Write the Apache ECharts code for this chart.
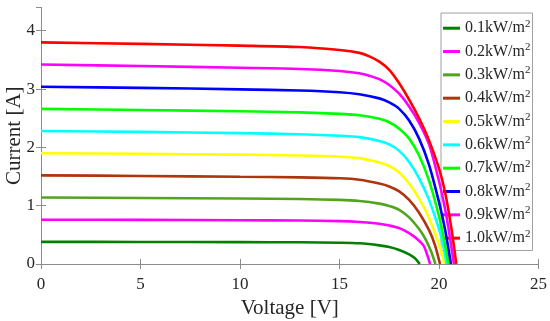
<!DOCTYPE html>
<html>
<head>
<meta charset="utf-8">
<script src="https://cdn.jsdelivr.net/npm/echarts@6/dist/echarts.min.js"></script>
<style>html,body{margin:0;padding:0;background:#fff;}#c{width:550px;height:321px;}</style>
</head>
<body>
<div id="c"></div>
<script>
// Irradiance labels (kW/m^2)
var irradiance = ['0.1','0.2','0.3','0.4','0.5','0.6','0.7','0.8','0.9','1.0'];
var colors = ['#008000','#ff00ff','#52a41f','#b0340c','#ffff00','#00ffff','#00ff00','#0000ff','#ff00ff','#ff0000'];
var xTicks = [0,5,10,15,20,25];
var yTicks = [0,1,2,3,4];

// Voltage [V] / Current [A] readings per curve
var v01 = [0,5,10,13,15,16,17,17.5,18,18.5,18.8,19.03];
var i01 = [0.38,0.378,0.375,0.372,0.365,0.355,0.32,0.29,0.24,0.165,0.097,0];
var v02 = [0,5,10,13,15,16,17,17.5,18,18.5,19,19.25,19.55];
var i02 = [0.76,0.756,0.75,0.745,0.735,0.72,0.69,0.66,0.615,0.53,0.40,0.30,0];
var v03 = [0,5,10,13,15,16,17,17.5,18,18.5,19,19.3,19.6,19.82];
var i03 = [1.14,1.133,1.123,1.115,1.10,1.08,1.035,0.995,0.93,0.80,0.60,0.44,0.22,0];
var v04 = [0,5,10,13,15,16,17,17.5,18,18.5,19,19.5,19.8,20.05];
var i04 = [1.52,1.51,1.495,1.485,1.47,1.445,1.38,1.33,1.245,1.10,0.88,0.58,0.32,0];
var v05 = [0,5,10,13,15,16,17,17.5,18,18.5,19,19.5,20,20.27];
var i05 = [1.90,1.89,1.875,1.86,1.84,1.815,1.74,1.68,1.57,1.38,1.12,0.79,0.34,0];
var v06 = [0,5,10,13,15,16,17,17.5,18,18.5,19,19.5,20,20.2,20.38];
var i06 = [2.28,2.265,2.245,2.225,2.20,2.175,2.11,2.05,1.94,1.75,1.47,1.10,0.60,0.34,0];
var v07 = [0,5,10,13,15,16,17,17.5,18,18.5,19,19.5,20,20.25,20.48];
var i07 = [2.66,2.64,2.62,2.60,2.575,2.55,2.49,2.43,2.32,2.15,1.86,1.43,0.82,0.42,0];
var v08 = [0,5,10,13,15,16,17,17.5,18,18.5,19,19.5,20,20.3,20.6];
var i08 = [3.04,3.02,2.995,2.975,2.945,2.91,2.84,2.77,2.66,2.46,2.15,1.70,1.06,0.60,0];
var v09 = [0,5,10,13,15,16,16.5,17,17.5,18,18.5,19,19.5,20,20.3,20.55,20.75];
var i09 = [3.42,3.395,3.365,3.345,3.31,3.27,3.23,3.17,3.07,2.92,2.70,2.42,2.05,1.42,0.95,0.46,0];
var v10 = [0,5,10,13,15,16,16.5,17,17.5,18,18.5,19,19.5,20,20.3,20.6,20.87];
var i10 = [3.80,3.775,3.745,3.72,3.67,3.62,3.56,3.47,3.33,3.10,2.82,2.50,2.12,1.64,1.24,0.66,0];

var vs = [v01,v02,v03,v04,v05,v06,v07,v08,v09,v10];
var is = [i01,i02,i03,i04,i05,i06,i07,i08,i09,i10];

var font = '"Liberation Serif", "Times New Roman", serif';
var textColor = '#262626';
var axisColor = '#8c8c8c';

var series = irradiance.map(function (name, k) {
  return {
    name: name,
    type: 'line',
    xAxisIndex: 0, yAxisIndex: 0,
    showSymbol: false,
    symbol: 'none',
    smooth: 0.3,
    lineStyle: { width: 2.6, color: colors[k] },
    itemStyle: { color: colors[k] },
    data: vs[k].map(function (v, j) { return [v, is[k][j]]; }),
    z: 2 + k
  };
});

var chart = echarts.init(document.getElementById('c'), null, { renderer: 'canvas' });
chart.setOption({
  backgroundColor: '#fff',
  animation: false,
  grid: { left: 41, right: 11.5, top: 7.4, bottom: 57, containLabel: false, outerBoundsMode: 'none' },
  legend: {
    orient: 'vertical',
    left: 441, top: 13,
    padding: [5.2, 2, 2.3, 2],
    itemGap: 3.33,
    itemWidth: 17,
    itemHeight: 3,
    icon: 'rect',
    backgroundColor: '#fff',
    borderColor: '#a0a0a0',
    borderWidth: 1,
    borderRadius: 0,
    data: irradiance,
    formatter: function (name) { return '{a|' + name + 'kW/m}{b|2}'; },
    textStyle: {
      fontFamily: font, color: textColor,
      rich: {
        a: { fontFamily: font, fontSize: 16, color: textColor, lineHeight: 18 },
        b: { fontFamily: font, fontSize: 11, color: textColor, lineHeight: 18, padding: [0, 0, 9, 0] }
      }
    }
  },
  xAxis: [{
    type: 'value', min: 0, max: 25, interval: 5,
    name: 'Voltage [V]', nameLocation: 'middle', nameGap: 34, nameMoveOverlap: false,
    nameTextStyle: { fontFamily: font, fontSize: 21, color: textColor },
    axisLine: { show: true, lineStyle: { color: axisColor, width: 1 } },
    axisTick: { show: true, inside: true, length: 5, lineStyle: { color: axisColor } },
    axisLabel: { fontFamily: font, fontSize: 17, color: textColor, margin: 12,
      formatter: function (v) { return xTicks.indexOf(v) >= 0 ? String(v) : ''; } },
    splitLine: { show: false }
  }, {
    type: 'value', min: 0, max: 25, interval: 5, position: 'top',
    axisLine: { show: true, lineStyle: { color: axisColor, width: 1 } },
    axisTick: { show: true, inside: true, length: 5, lineStyle: { color: axisColor } },
    axisLabel: { show: false },
    splitLine: { show: false }
  }],
  yAxis: [{
    type: 'value', min: 0, max: 4.4, interval: 1,
    name: 'Current [A]', nameLocation: 'middle', nameGap: 16, nameMoveOverlap: false,
    nameTextStyle: { fontFamily: font, fontSize: 21, color: textColor },
    axisLine: { show: true, lineStyle: { color: axisColor, width: 1 } },
    axisTick: { show: true, inside: true, length: 5, lineStyle: { color: axisColor } },
    axisLabel: { fontFamily: font, fontSize: 17, color: textColor, margin: 6, showMaxLabel: false,
      formatter: function (v) { return yTicks.indexOf(v) >= 0 ? String(v) : ''; } },
    splitLine: { show: false }
  }, {
    type: 'value', min: 0, max: 4.4, interval: 1, position: 'right',
    axisLine: { show: true, lineStyle: { color: axisColor, width: 1 } },
    axisTick: { show: true, inside: true, length: 5, lineStyle: { color: axisColor } },
    axisLabel: { show: false },
    splitLine: { show: false }
  }],
  series: series
});
</script>
</body>
</html>
